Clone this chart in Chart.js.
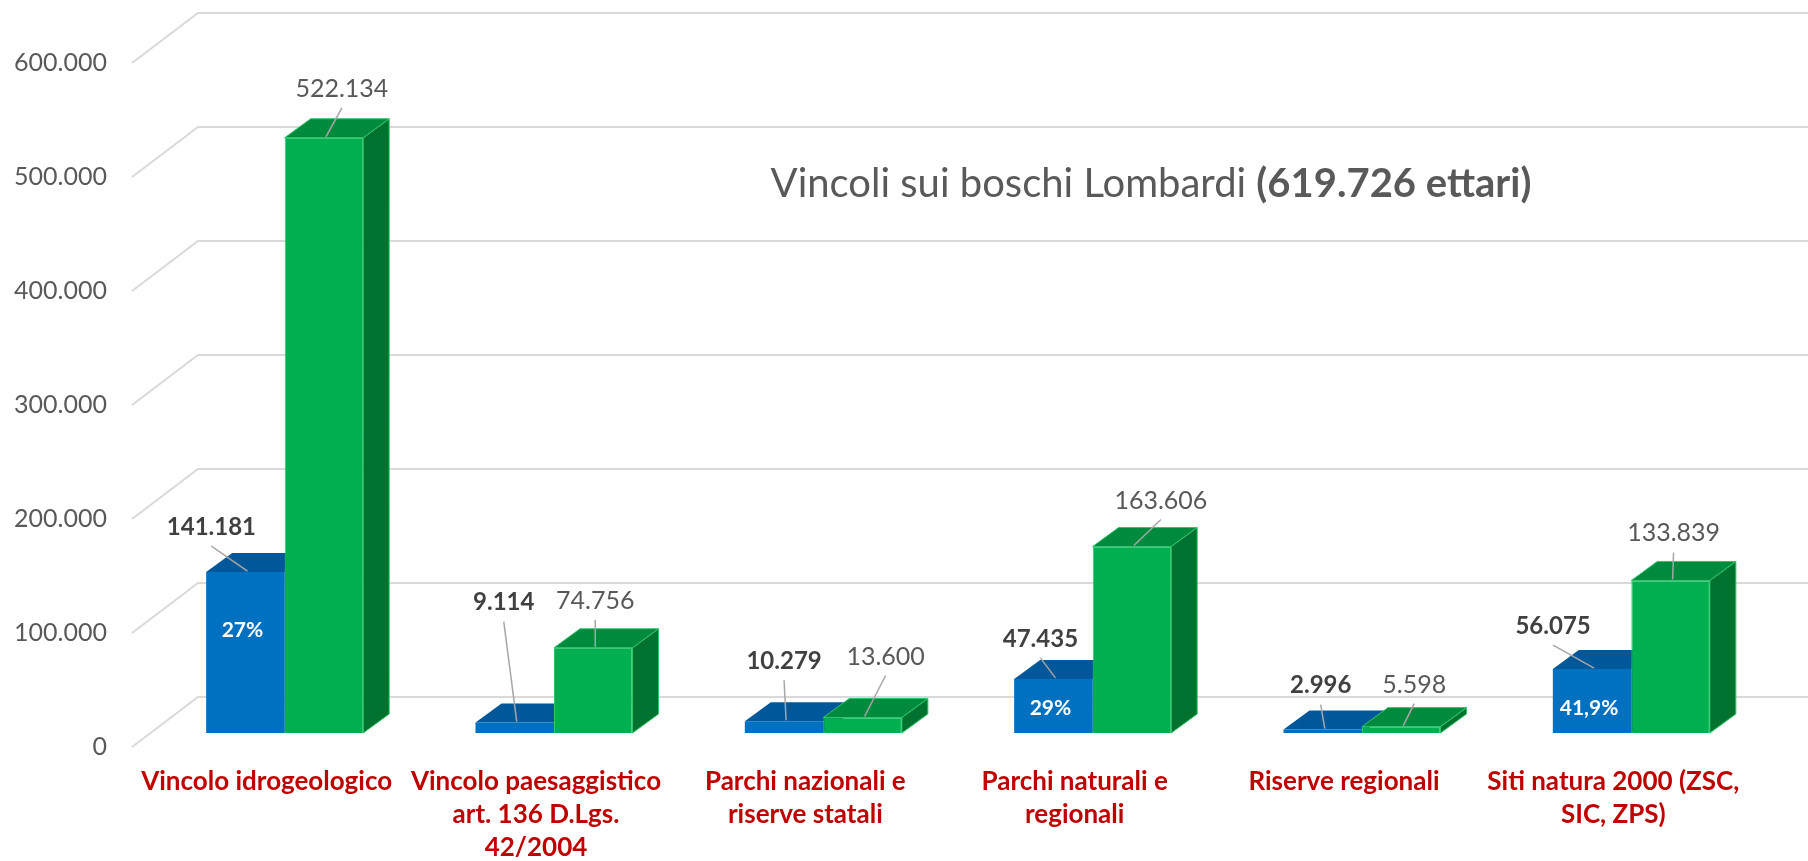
<!DOCTYPE html>
<html>
<head>
<meta charset="utf-8">
<script src="https://cdn.jsdelivr.net/npm/chart.js@4.4.0/dist/chart.umd.min.js"></script>
<style>
    html, body { margin: 0; padding: 0; background: #fff; }
    #wrap { width: 1808px; height: 861px; }
</style>
</head>
<body>
<div id="wrap"><canvas id="grafico"></canvas></div>
<script>
const categorie = [
    'Vincolo idrogeologico',
    ['Vincolo paesaggistico', 'art. 136 D.Lgs.', '42/2004'],
    ['Parchi nazionali e', 'riserve statali'],
    ['Parchi naturali e', 'regionali'],
    'Riserve regionali',
    ['Siti natura 2000 (ZSC,', 'SIC, ZPS)']
];
const valoriBlu = [141181, 9114, 10279, 47435, 2996, 56075];
const valoriVerdi = [522134, 74756, 13600, 163606, 5598, 133839];
const percentuali = ['27%', '', '', '29%', '', '41,9%'];
const tickValori = [0, 100000, 200000, 300000, 400000, 500000, 600000];

// spostamento etichette rispetto alla barra: [dx, sollevamento]
const spostaBlu = [[-34, 45], [-11, 120], [0, 60], [-13, 40], [-2, 44], [-39, 43]];
const spostaVerdi = [[18, 49], [2, 47], [23, 61], [29, 46], [13, 42], [3, 47]];

const DX = 26, DY = -19;

function formatta(v) {
    return String(v).replace(/\B(?=(\d{3})+(?!\d))/g, '.');
}

function poligono(ctx, punti, colore, bordo) {
    ctx.beginPath();
    ctx.moveTo(punti[0][0], punti[0][1]);
    for (let k = 1; k < punti.length; k++)
        ctx.lineTo(punti[k][0], punti[k][1]);
    ctx.closePath();
    ctx.fillStyle = colore;
    ctx.fill();
    if (bordo) {
        ctx.strokeStyle = bordo;
        ctx.lineWidth = 1;
        ctx.stroke();
    }
}

const finto3d = {
    id: 'finto3d',
    beforeDatasetsDraw(chart) {
        const ctx = chart.ctx;
        const area = chart.chartArea;
        const sy = chart.scales.y;
        ctx.save();
        // griglia in prospettiva
        ctx.strokeStyle = '#D9D9D9';
        ctx.lineWidth = 2;
        tickValori.forEach(v => {
            const py = sy.getPixelForValue(v);
            ctx.beginPath();
            ctx.moveTo(area.left - 18, py + 14);
            ctx.lineTo(area.left + 48, py - 36);
            ctx.lineTo(chart.width, py - 36);
            ctx.stroke();
        });
        // facce superiori e laterali
        const colori = [
            { top: '#00589A', side: '#004C86', bordo: null },
            { top: '#008A3E', side: '#00722F', bordo: '#2FC56B' }
        ];
        for (let i = 0; i < categorie.length; i++) {
            for (let d = 0; d < 2; d++) {
                const b = chart.getDatasetMeta(d).data[i];
                const x0 = b.x - b.width / 2, x1 = b.x + b.width / 2;
                poligono(ctx, [[x1, b.y], [x1 + DX, b.y + DY], [x1 + DX, b.base + DY], [x1, b.base]], colori[d].side, colori[d].bordo);
                poligono(ctx, [[x0, b.y], [x1, b.y], [x1 + DX, b.y + DY], [x0 + DX, b.y + DY]], colori[d].top, colori[d].bordo);
            }
        }
        ctx.restore();
    },
    afterDatasetsDraw(chart) {
        const ctx = chart.ctx;
        ctx.save();
        ctx.textAlign = 'center';
        ctx.textBaseline = 'middle';
        for (let i = 0; i < categorie.length; i++) {
            const b = chart.getDatasetMeta(0).data[i];
            const g = chart.getDatasetMeta(1).data[i];
            const etichette = [
                { bar: b, sp: spostaBlu[i], txt: formatta(valoriBlu[i]), font: 'bold 24px Lato', col: '#404040' },
                { bar: g, sp: spostaVerdi[i], txt: formatta(valoriVerdi[i]), font: '25px Lato', col: '#595959' }
            ];
            etichette.forEach(e => {
                const lx = e.bar.x + e.sp[0];
                const ly = e.bar.y - e.sp[1];
                ctx.strokeStyle = '#A6A6A6';
                ctx.lineWidth = 1.5;
                ctx.beginPath();
                ctx.moveTo(lx, ly + 19);
                ctx.lineTo(e.bar.x + 2, e.bar.y - 1);
                ctx.stroke();
                ctx.font = e.font;
                ctx.fillStyle = e.col;
                ctx.fillText(e.txt, lx, ly);
            });
            if (percentuali[i]) {
                ctx.font = 'bold 21px Lato';
                ctx.fillStyle = '#FFFFFF';
                ctx.fillText(percentuali[i], b.x - 3, Math.min(b.y + 58, b.base - 25));
            }
        }
        // titolo
        const t1 = 'Vincoli sui boschi Lombardi ';
        const t2 = '(619.726 ettari)';
        ctx.font = '40px Lato';
        const w1 = ctx.measureText(t1).width;
        ctx.font = 'bold 40px Lato';
        const w2 = ctx.measureText(t2).width;
        let x = 1151 - (w1 + w2) / 2;
        ctx.textAlign = 'left';
        ctx.fillStyle = '#595959';
        ctx.font = '40px Lato';
        ctx.fillText(t1, x, 184);
        ctx.font = 'bold 40px Lato';
        ctx.fillText(t2, x + w1, 184);
        ctx.restore();
    }
};

const data = {
    labels: categorie,
    datasets: [{
            label: 'Boschi vincolati',
            data: valoriBlu,
            backgroundColor: '#0070C0',
            borderWidth: 0
        }, {
            label: 'Superficie vincolo',
            data: valoriVerdi,
            backgroundColor: '#00B050',
            borderColor: '#2FC56B',
            borderWidth: 1
        }]
};

const config = {
    type: 'bar',
    data: data,
    options: {
        responsive: true,
        maintainAspectRatio: false,
        animation: false,
        layout: { padding: { top: 49, right: 42, left: 0, bottom: 0 } },
        datasets: { bar: { categoryPercentage: 0.583, barPercentage: 1 } },
        plugins: {
            legend: { display: false },
            tooltip: { enabled: false }
        },
        scales: {
            x: {
                grid: { display: false, drawTicks: false },
                border: { display: false },
                ticks: {
                    color: '#C00000',
                    font: { family: 'Lato', size: 26, weight: 'bold', lineHeight: 1.27 },
                    padding: 32,
                    labelOffset: -18,
                    maxRotation: 0,
                    autoSkip: false
                },
                afterFit(scale) { scale.height = 128; }
            },
            y: {
                min: 0,
                max: 600000,
                grid: { display: false, drawTicks: false },
                border: { display: false },
                ticks: {
                    stepSize: 100000,
                    color: '#595959',
                    font: { family: 'Lato', size: 25 },
                    padding: 43,
                    labelOffset: 14,
                    callback: v => formatta(v)
                },
                afterFit(scale) {
                    scale.width = 150;
                    scale.paddingTop = 0;
                    scale.paddingBottom = 0;
                }
            }
        }
    },
    plugins: [finto3d]
};

let grafico = document.getElementById('grafico').getContext('2d');

new Chart(grafico, config);
</script>
</body>
</html>
